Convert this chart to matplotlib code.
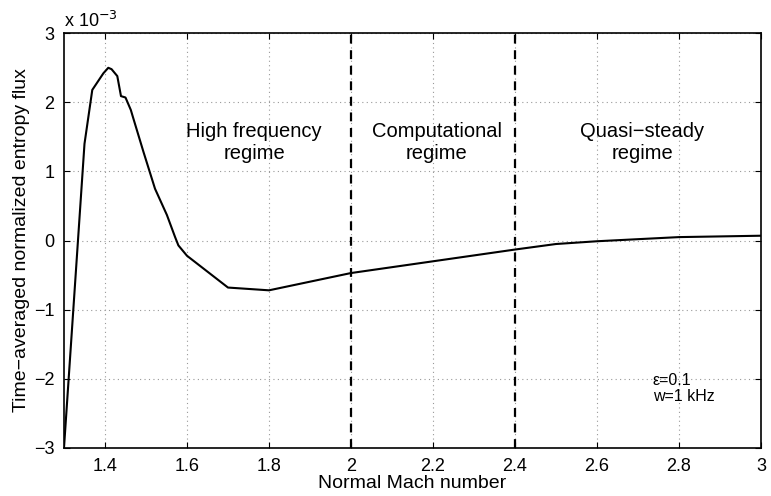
import matplotlib
matplotlib.use("Agg")
import matplotlib.pyplot as plt

plt.rcParams['font.family'] = ['Liberation Sans', 'DejaVu Sans']

mach = [1.30, 1.35, 1.369, 1.396, 1.408, 1.416, 1.430, 1.439, 1.450, 1.463, 1.468,
        1.494, 1.522, 1.551, 1.571, 1.579, 1.60, 1.70, 1.80, 2.00, 2.40, 2.50,
        2.60, 2.80, 3.00]
flux = [-3.0, 1.40, 2.18, 2.42, 2.50, 2.48, 2.38, 2.09, 2.07, 1.89, 1.79,
        1.28, 0.75, 0.37, 0.05, -0.07, -0.22, -0.68, -0.72, -0.47, -0.13, -0.05,
        -0.01, 0.05, 0.07]  # x 10^-3
regime_bounds = [2.0, 2.4]
regime_labels = ["High frequency\nregime", "Computational\nregime", "Quasi\u2212steady\nregime"]
regime_x = [1.764, 2.209, 2.711]
xticks = [1.4, 1.6, 1.8, 2.0, 2.2, 2.4, 2.6, 2.8, 3.0]
xticklabels = ["1.4", "1.6", "1.8", "2", "2.2", "2.4", "2.6", "2.8", "3"]
yticks = [-3, -2, -1, 0, 1, 2, 3]

fig = plt.figure(figsize=(7.71, 4.96), dpi=100)
ax = fig.add_axes([0.083, 0.097, 0.904, 0.836])
ax.plot(mach, flux, color='black', lw=1.5)
for b in regime_bounds:
    ax.axvline(b, color='black', lw=1.6, ls=(0, (4, 3)))
for x, t in zip(regime_x, regime_labels):
    ax.text(x, 1.42, t, ha='center', va='center', fontsize=14.5, linespacing=1.2)
ax.text(2.736, -2.02, "\u03b5=0.1", fontsize=11.5, va='center', ha='left')
ax.text(2.736, -2.26, "w=1 kHz", fontsize=11.5, va='center', ha='left')

ax.set_xlim(1.3, 3.0)
ax.set_ylim(-3, 3)
ax.set_xticks(xticks)
ax.set_xticklabels(xticklabels)
ax.set_yticks(yticks)
ax.set_yticklabels(["\u22123", "\u22122", "\u22121", "0", "1", "2", "3"])
ax.tick_params(direction='in', top=True, right=True, labelsize=13, length=4, pad=7)
ax.grid(True, color='#999999', ls=(0, (1, 3)), lw=0.8)
for s in ax.spines.values():
    s.set_linewidth(1.2)
ax.set_xlabel("Normal Mach number", fontsize=14, labelpad=0)
ax.set_ylabel("Time\u2212averaged normalized entropy flux", fontsize=14, labelpad=3)
ax.text(0.0, 1.005, r"x 10$^{-3}$", transform=ax.transAxes, fontsize=13, ha='left', va='bottom')

fig.savefig("out.png", dpi=100)
